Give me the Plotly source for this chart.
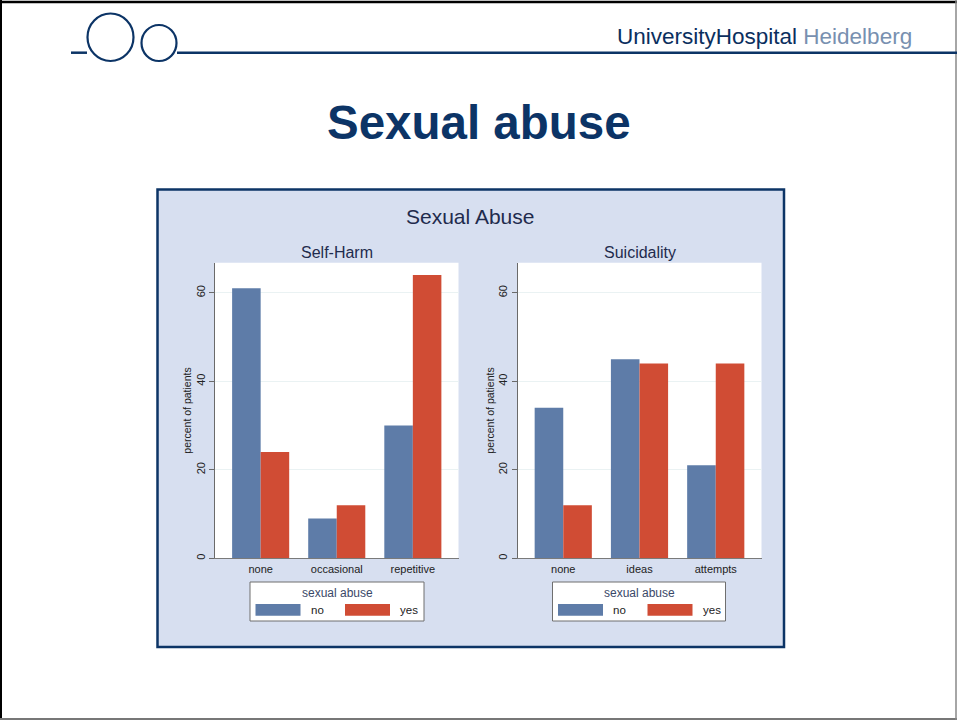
import plotly.graph_objects as go

# ---- data ----
selfharm_categories = ["none", "occasional", "repetitive"]
selfharm_no = [61, 9, 30]
selfharm_yes = [24, 12, 64]

suicidality_categories = ["none", "ideas", "attempts"]
suicidality_no = [34, 45, 21]
suicidality_yes = [12, 44, 44]

y_ticks = [0, 20, 40, 60]
series_names = ["no", "yes"]

# ---- style ----
W, H = 957, 720
BLUE = "#5e7ca8"
RED = "#d04c34"
NAVY = "#0c3466"
PANEL = "#d7dff0"
TXT = "#1f2b4d"
FONT = "Liberation Sans, Arial"


def px(x):
    return x / W


def py(y):
    return 1 - y / H


fig = go.Figure()

fig.add_trace(go.Bar(x=selfharm_categories, y=selfharm_no, name=series_names[0],
                     marker=dict(color=BLUE, line=dict(width=0)), xaxis="x", yaxis="y",
                     showlegend=False))
fig.add_trace(go.Bar(x=selfharm_categories, y=selfharm_yes, name=series_names[1],
                     marker=dict(color=RED, line=dict(width=0)), xaxis="x", yaxis="y",
                     showlegend=False))
fig.add_trace(go.Bar(x=suicidality_categories, y=suicidality_no, name=series_names[0],
                     marker=dict(color=BLUE, line=dict(width=0)), xaxis="x2", yaxis="y2",
                     showlegend=False))
fig.add_trace(go.Bar(x=suicidality_categories, y=suicidality_yes, name=series_names[1],
                     marker=dict(color=RED, line=dict(width=0)), xaxis="x2", yaxis="y2",
                     showlegend=False))

plot_top, plot_bot = 262.7, 558.3
xdom1 = [px(215), px(458.5)]
xdom2 = [px(517.5), px(761.5)]
ydom = [py(plot_bot), py(plot_top)]

xaxis_common = dict(range=[-0.6, 2.6], showline=True, linecolor="#7a7a7a", linewidth=1,
                    ticks="", showgrid=False, zeroline=False,
                    tickfont=dict(family=FONT, size=11, color="#222"),
                    fixedrange=True)
yaxis_common = dict(range=[0, 66.8], tickvals=y_ticks, showline=True, linecolor="#6a6a6a",
                    linewidth=1, ticks="outside", ticklen=5, tickcolor="#6a6a6a",
                    tickangle=-90, showgrid=True, gridcolor="#eaf2f3", gridwidth=1,
                    zeroline=False,
                    tickfont=dict(family=FONT, size=11, color="#222"),
                    title=dict(text="percent of patients", standoff=0,
                               font=dict(family=FONT, size=10.5, color="#222")),
                    fixedrange=True)

fig.update_layout(
    width=W, height=H, autosize=False,
    margin=dict(l=0, r=0, t=0, b=0),
    paper_bgcolor="white", plot_bgcolor="rgba(0,0,0,0)",
    barmode="group", bargap=0.25, bargroupgap=0,
    xaxis=dict(domain=xdom1, anchor="y", **xaxis_common),
    yaxis=dict(domain=ydom, anchor="x", **yaxis_common),
    xaxis2=dict(domain=xdom2, anchor="y2", **xaxis_common),
    yaxis2=dict(domain=ydom, anchor="x2", **yaxis_common),
    showlegend=False,
)

shapes = []
# page frame
shapes.append(dict(type="line", xref="paper", yref="paper", x0=0, x1=1, y0=py(2), y1=py(2),
                   line=dict(color="black", width=2.5)))
shapes.append(dict(type="line", xref="paper", yref="paper", x0=px(1), x1=px(1), y0=0, y1=1,
                   line=dict(color="black", width=2)))
shapes.append(dict(type="line", xref="paper", yref="paper", x0=0, x1=1, y0=py(719), y1=py(719),
                   line=dict(color="#777", width=2)))
shapes.append(dict(type="line", xref="paper", yref="paper", x0=px(956), x1=px(956), y0=0, y1=1,
                   line=dict(color="#888", width=1.5)))
# logo
shapes.append(dict(type="line", xref="paper", yref="paper", x0=px(71), x1=px(87), y0=py(52.7), y1=py(52.7),
                   line=dict(color=NAVY, width=2.5)))
shapes.append(dict(type="line", xref="paper", yref="paper", x0=px(177), x1=px(957), y0=py(52.7), y1=py(52.7),
                   line=dict(color=NAVY, width=2.5)))
shapes.append(dict(type="circle", xref="paper", yref="paper", x0=px(87.5), x1=px(133.5), y0=py(61), y1=py(13.5),
                   line=dict(color=NAVY, width=2.2)))
shapes.append(dict(type="circle", xref="paper", yref="paper", x0=px(141.5), x1=px(176.5), y0=py(61), y1=py(25),
                   line=dict(color=NAVY, width=2.2)))
# chart panel
shapes.append(dict(type="rect", xref="paper", yref="paper", x0=px(157.5), x1=px(784), y0=py(647), y1=py(189.5),
                   fillcolor=PANEL, line=dict(color=NAVY, width=2.5), layer="below"))
# white plot regions
for xr, yr in (("x", "y"), ("x2", "y2")):
    shapes.append(dict(type="rect", xref=f"{xr} domain", yref=f"{yr} domain", x0=0, x1=1, y0=0, y1=1,
                       fillcolor="white", line=dict(width=0), layer="below"))

annotations = []
# legends
legend_boxes = [(250, 424), (552.5, 725.5)]
for (lx0, lx1) in legend_boxes:
    shapes.append(dict(type="rect", xref="paper", yref="paper", x0=px(lx0), x1=px(lx1), y0=py(621), y1=py(582),
                       fillcolor="white", line=dict(color="#6f6f6f", width=1)))
    sw0 = lx0 + 5.5
    shapes.append(dict(type="rect", xref="paper", yref="paper", x0=px(sw0), x1=px(sw0 + 45), y0=py(615.7), y1=py(604),
                       fillcolor=BLUE, line=dict(width=0)))
    shapes.append(dict(type="rect", xref="paper", yref="paper", x0=px(sw0 + 89.5), x1=px(sw0 + 134.5), y0=py(615.7), y1=py(604),
                       fillcolor=RED, line=dict(width=0)))
    annotations.append(dict(text="sexual abuse", xref="paper", yref="paper", x=px((lx0 + lx1) / 2), y=py(593),
                            xanchor="center", yanchor="middle", showarrow=False,
                            font=dict(family=FONT, size=12, color="#3a4868")))
    annotations.append(dict(text=series_names[0], xref="paper", yref="paper", x=px(sw0 + 53), y=py(610),
                            xanchor="left", yanchor="middle", showarrow=False,
                            font=dict(family=FONT, size=11.5, color="#222")))
    annotations.append(dict(text=series_names[1], xref="paper", yref="paper", x=px(sw0 + 142.5), y=py(610),
                            xanchor="left", yanchor="middle", showarrow=False,
                            font=dict(family=FONT, size=11.5, color="#222")))

# titles
annotations.append(dict(text="<b>Sexual abuse</b>", xref="paper", yref="paper", x=px(478.5), y=py(122),
                        xanchor="center", yanchor="middle", showarrow=False,
                        font=dict(family=FONT, size=47.5, color=NAVY)))
annotations.append(dict(text="Sexual Abuse", xref="paper", yref="paper", x=px(470), y=py(216),
                        xanchor="center", yanchor="middle", showarrow=False,
                        font=dict(family=FONT, size=21, color=TXT)))
annotations.append(dict(text="Self-Harm", xref="paper", yref="paper", x=px(336.5), y=py(252.5),
                        xanchor="center", yanchor="middle", showarrow=False,
                        font=dict(family=FONT, size=16, color=TXT)))
annotations.append(dict(text="Suicidality", xref="paper", yref="paper", x=px(639.5), y=py(252.5),
                        xanchor="center", yanchor="middle", showarrow=False,
                        font=dict(family=FONT, size=16, color=TXT)))
annotations.append(dict(text="<span style='color:#0b2f5e'>UniversityHospital</span> "
                             "<span style='color:#7890b0'>Heidelberg</span>",
                        xref="paper", yref="paper", x=px(914), y=py(36),
                        xanchor="right", yanchor="middle", showarrow=False,
                        font=dict(family=FONT, size=22.5, color="#0b2f5e")))

fig.update_layout(shapes=shapes, annotations=annotations)
fig.write_html("out.html", config={"displayModeBar": False},
               post_script="document.body.style.margin='0';")
